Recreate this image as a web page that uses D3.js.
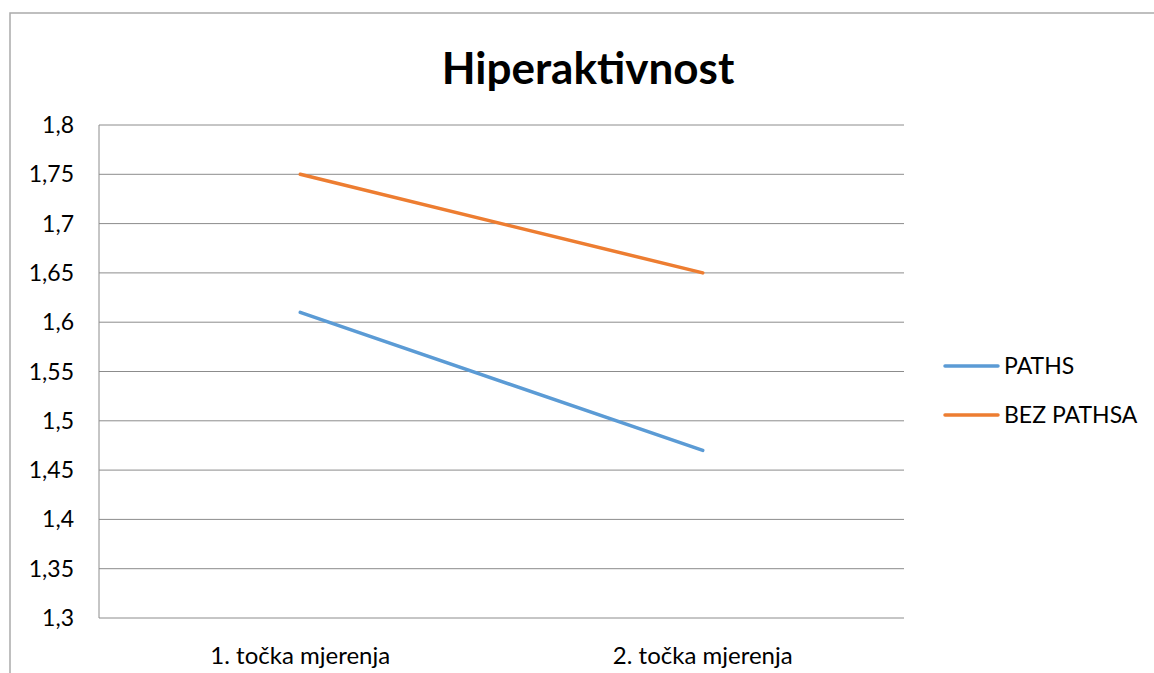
<!DOCTYPE html>
<html>
<head>
<meta charset="utf-8">
<script src="https://cdn.jsdelivr.net/npm/d3@7"></script>
<style>
    body { margin: 0; background: #fff; }
    svg { display: block; font-family: Lato, "Open Sans", sans-serif; }
</style>
</head>
<body>
<div id="chart"></div>
<script>
// Chart data
const categories = ["1. točka mjerenja", "2. točka mjerenja"];
const seriesNames = ["PATHS", "BEZ PATHSA"];
const pathsValues = [1.61, 1.47];
const bezPathsaValues = [1.75, 1.65];
const yTicks = [1.3, 1.35, 1.4, 1.45, 1.5, 1.55, 1.6, 1.65, 1.7, 1.75, 1.8];
const colors = ["#5B9BD5", "#ED7D31"];

const width = 1154, height = 673;
const margin = { top: 125, right: 250, bottom: 55, left: 99 };
const plotW = width - margin.left - margin.right;
const plotH = height - margin.top - margin.bottom;

const svg = d3.select("#chart").append("svg")
    .attr("width", width)
    .attr("height", height);

// outer chart frame (runs off right and bottom)
svg.append("rect")
    .attr("x", 10).attr("y", 13)
    .attr("width", 1300).attr("height", 800)
    .attr("fill", "none")
    .attr("stroke", "#ababab")
    .attr("stroke-width", 1.5);

svg.append("text")
    .attr("x", 588)
    .attr("y", 84)
    .attr("text-anchor", "middle")
    .attr("font-size", 44)
    .attr("font-weight", "bold")
    .text("Hiperaktivnost");

const g = svg.append("g")
    .attr("transform", `translate(${margin.left},${margin.top})`);

const xScale = d3.scaleBand().domain(categories).range([0, plotW]);
const yScale = d3.scaleLinear().domain([1.3, 1.8]).range([plotH, 0]);

// gridlines
g.selectAll(".grid")
    .data(yTicks)
    .enter().append("line")
    .attr("x1", 0).attr("x2", plotW)
    .attr("y1", d => yScale(d)).attr("y2", d => yScale(d))
    .attr("stroke", "#8c8c8c")
    .attr("stroke-width", 1);

// left axis line
g.append("line")
    .attr("x1", 0).attr("x2", 0)
    .attr("y1", 0).attr("y2", plotH)
    .attr("stroke", "#8c8c8c");

// Y tick labels
const fmt = d => String(+d.toFixed(2)).replace(".", ",");
g.selectAll(".ylab")
    .data(yTicks)
    .enter().append("text")
    .attr("x", -25)
    .attr("y", d => yScale(d) + 8)
    .attr("text-anchor", "end")
    .attr("font-size", 23)
    .text(fmt);

// X labels
g.selectAll(".xlab")
    .data(categories)
    .enter().append("text")
    .attr("x", d => xScale(d) + xScale.bandwidth() / 2)
    .attr("y", plotH + 46)
    .attr("text-anchor", "middle")
    .attr("font-size", 24)
    .text(d => d);

// lines
const line = d3.line()
    .x((d, i) => xScale(categories[i]) + xScale.bandwidth() / 2)
    .y(d => yScale(d));

[pathsValues, bezPathsaValues].forEach((vals, k) => {
    g.append("path")
        .datum(vals)
        .attr("fill", "none")
        .attr("stroke", colors[k])
        .attr("stroke-width", 3.5)
        .attr("stroke-linecap", "round")
        .attr("d", line);
});

// legend
const legend = svg.append("g").attr("transform", "translate(945,366)");
seriesNames.forEach((name, k) => {
    const row = legend.append("g").attr("transform", `translate(0,${k * 49})`);
    row.append("line")
        .attr("x1", 0).attr("x2", 53)
        .attr("stroke", colors[k])
        .attr("stroke-width", 3.5)
        .attr("stroke-linecap", "round");
    row.append("text")
        .attr("x", 59)
        .attr("y", 8)
        .attr("font-size", 23)
        .text(name);
});
</script>
</body>
</html>
